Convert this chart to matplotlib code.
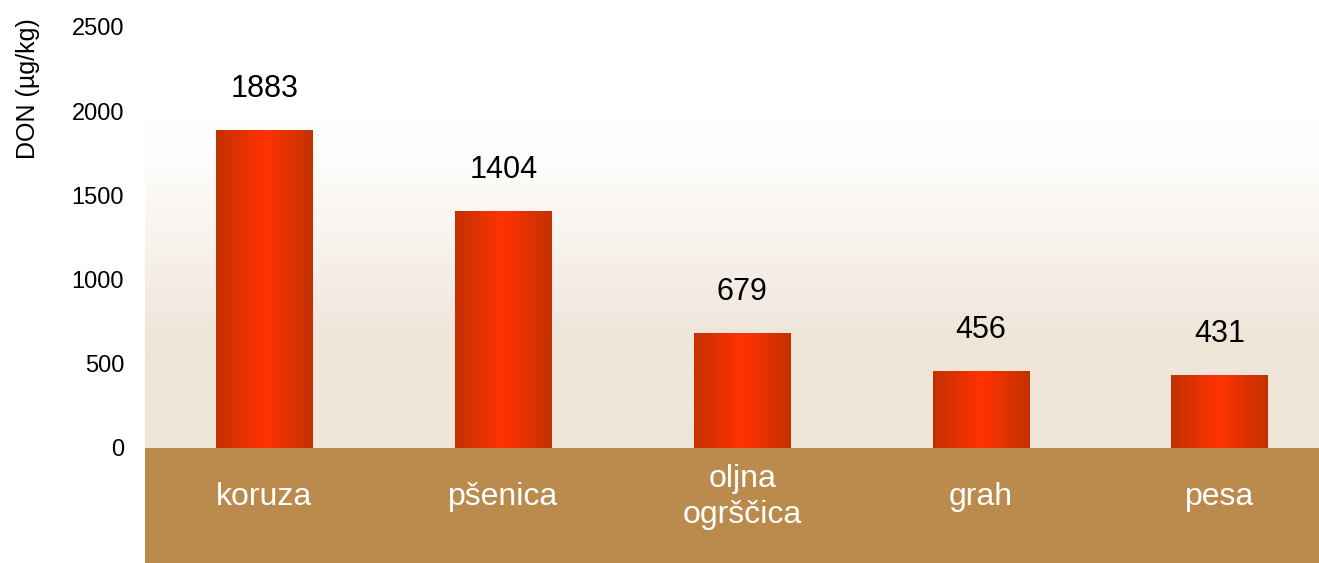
# DON content by crop - bar chart with gradient bars and a "floor" band

import numpy as np
import matplotlib.pyplot as plt
from matplotlib.colors import LinearSegmentedColormap
from matplotlib.patches import Rectangle

plt.rcParams["font.family"] = ["Liberation Sans", "DejaVu Sans"]

# Data
crops = ["koruza", "pšenica", "oljna\nogrščica", "grah", "pesa"]
don_values = [1883, 1404, 679, 456, 431]
y_ticks = [0, 500, 1000, 1500, 2000, 2500]

# Colours
FLOOR_COLOR = "#BB8B4E"
WALL_TOP = "#FFFFFF"
WALL_BOTTOM = "#EFE5D9"
BAR_EDGE = "#C43100"
BAR_MID = "#FF3300"

W, H, DPI = 1319, 563, 100
fig = plt.figure(figsize=(W / DPI, H / DPI), dpi=DPI)
fig.patch.set_facecolor("white")

ax = fig.add_axes([145 / W, 0, (W - 145) / W, 1])
ax.set_facecolor("white")

x_lo, x_hi = -0.5, 4.415
y_lo, y_hi = -683, 2660
ax.set_xlim(x_lo, x_hi)
ax.set_ylim(y_lo, y_hi)

# back wall with vertical gradient (beige at bottom fading to white)
wall_cmap = LinearSegmentedColormap.from_list(
    "wall", [(0.0, WALL_BOTTOM), (0.33, WALL_BOTTOM), (0.5, "#F5EDE6"),
             (0.85, "#FDFCFA"), (1.0, WALL_TOP)])
wall_grad = np.linspace(0, 1, 256).reshape(-1, 1)
ax.imshow(wall_grad, cmap=wall_cmap, aspect="auto", origin="lower",
          extent=(x_lo, x_hi, 0, 1960), zorder=0)

# floor band below zero
ax.add_patch(Rectangle((x_lo, y_lo), x_hi - x_lo, -y_lo, facecolor=FLOOR_COLOR,
                       edgecolor="none", zorder=1))

# bars with horizontal gradient (dark edges, bright centre)
bar_cmap = LinearSegmentedColormap.from_list("bar", [BAR_EDGE, BAR_MID, BAR_EDGE])
bar_grad = np.linspace(0, 1, 256).reshape(1, -1)
bar_width = 0.406
for i, val in enumerate(don_values):
    ax.imshow(bar_grad, cmap=bar_cmap, aspect="auto",
              extent=(i - bar_width / 2, i + bar_width / 2, 0, val), zorder=2)
    ax.annotate(str(val), xy=(i, val), xytext=(0, 19), textcoords="offset points",
                ha="center", va="bottom", fontsize=22, color="black", zorder=3)
    ax.text(i, -292, crops[i], ha="center", va="center", fontsize=23,
            color="white", linespacing=1.25, zorder=3)

ax.set_xlim(x_lo, x_hi)
ax.set_ylim(y_lo, y_hi)

ax.set_xticks([])
ax.set_yticks(y_ticks)
ax.set_yticklabels([str(t) for t in y_ticks], fontsize=17)
ax.tick_params(axis="y", length=0, pad=15)
for side in ["top", "right", "bottom", "left"]:
    ax.spines[side].set_visible(False)

fig.text(28 / W, 1 - 89 / H, "DON (µg/kg)", rotation=90, ha="center", va="center",
         fontsize=18)

fig.savefig("out.png", dpi=DPI)
